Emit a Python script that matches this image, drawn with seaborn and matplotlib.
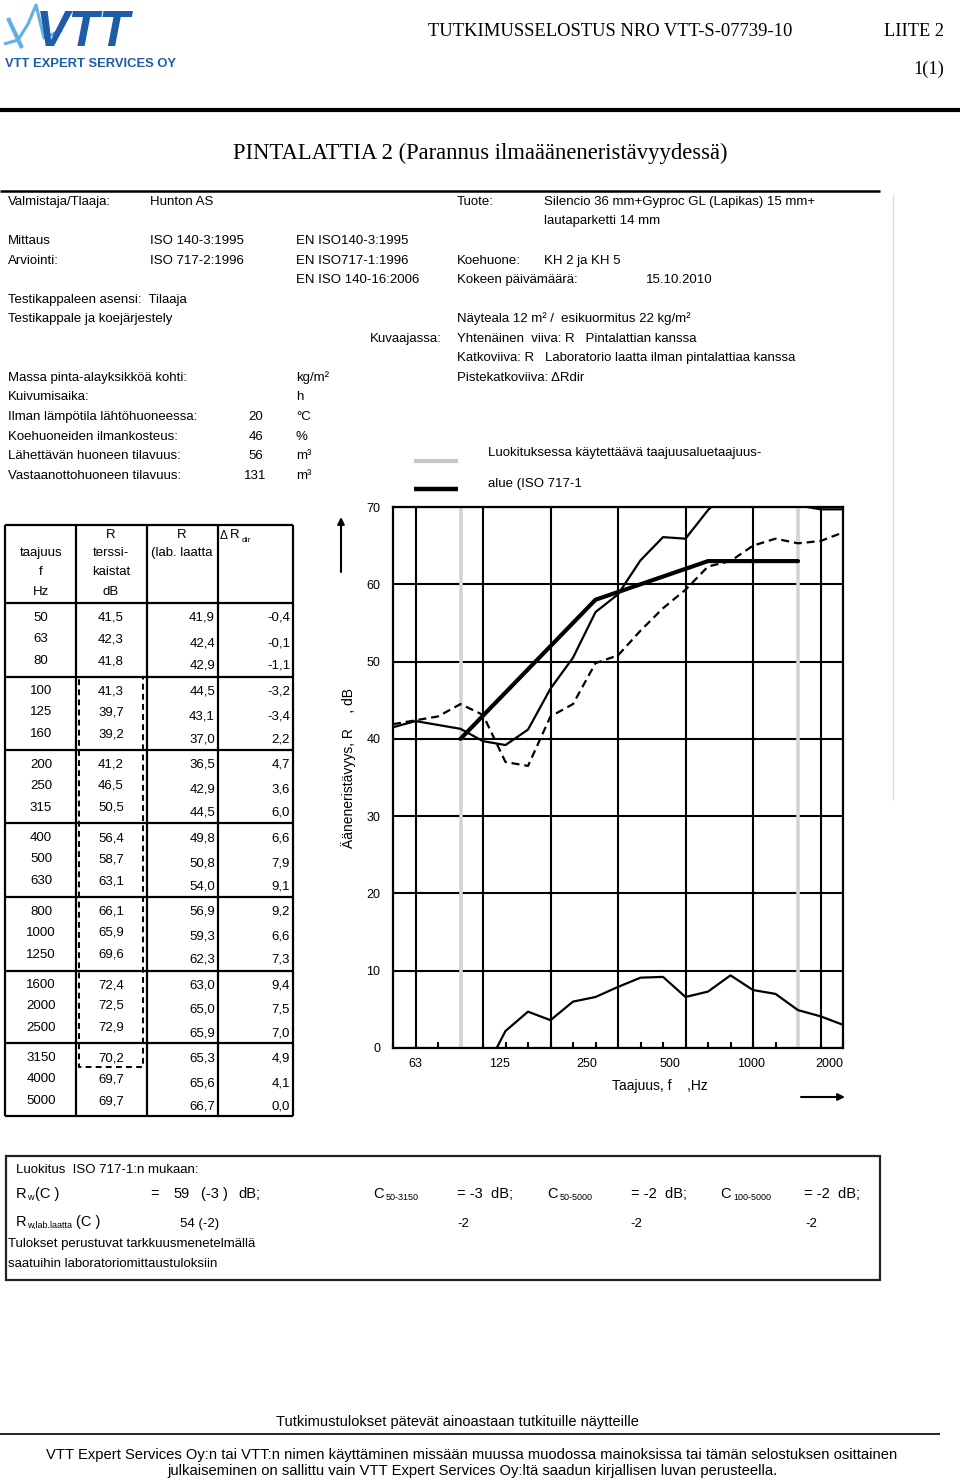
import numpy as np
import pandas as pd
import matplotlib
matplotlib.use("Agg")
import matplotlib.pyplot as plt
import seaborn as sns

# ---------------- data ----------------
freqs = [50, 63, 80, 100, 125, 160, 200, 250, 315, 400, 500, 630,
         800, 1000, 1250, 1600, 2000, 2500, 3150, 4000, 5000]
r_field = [41.5, 42.3, 41.8, 41.3, 39.7, 39.2, 41.2, 46.5, 50.5, 56.4, 58.7,
           63.1, 66.1, 65.9, 69.6, 72.4, 72.5, 72.9, 70.2, 69.7, 69.7]
r_lab = [41.9, 42.4, 42.9, 44.5, 43.1, 37.0, 36.5, 42.9, 44.5, 49.8, 50.8,
         54.0, 56.9, 59.3, 62.3, 63.0, 65.0, 65.9, 65.3, 65.6, 66.7]
# values printed in the table
delta_r = [-0.4, -0.1, -1.1, -3.2, -3.4, 2.2, 4.7, 3.6, 6.0, 6.6, 7.9,
           9.1, 9.2, 6.6, 7.3, 9.4, 7.5, 7.0, 4.9, 4.1, 0.0]
# values drawn in the chart (last point differs from the table)
delta_r_curve = [-0.4, -0.1, -1.1, -3.2, -3.4, 2.2, 4.7, 3.6, 6.0, 6.6, 7.9,
                 9.1, 9.2, 6.6, 7.3, 9.4, 7.5, 7.0, 4.9, 4.1, 3.0]
ref_freqs = [100, 125, 160, 200, 250, 315, 400, 500, 630, 800, 1000,
             1250, 1600, 2000, 2500, 3150]
ref_curve = [40, 43, 46, 49, 52, 55, 58, 59, 60, 61, 62, 63, 63, 63, 63, 63]
x_tick_labels = ["63", "125", "250", "500", "1000", "2000"]
y_ticks = [0, 10, 20, 30, 40, 50, 60, 70]

# ---------------- setup ----------------
sns.set_theme(style="white")
SANS = ["Liberation Sans", "DejaVu Sans"]
SERIF = ["Liberation Serif", "DejaVu Serif"]
plt.rcParams["font.family"] = SANS

W, H = 960, 1480
fig = plt.figure(figsize=(W / 100, H / 100), dpi=100)
fig.patch.set_facecolor("white")
tx = fig.add_axes([0, 0, 1, 1])
tx.set_xlim(0, W)
tx.set_ylim(H, 0)
tx.axis("off")


def T(x, y, s, size=9.5, ha="left", va="center", family=None, **kw):
    tx.text(x, y, s, fontsize=size, ha=ha, va=va,
            family=family if family else SANS, color="black", **kw)


def L(xs, ys, lw=1.0, color="black", **kw):
    tx.plot(xs, ys, lw=lw, color=color, solid_capstyle="butt", **kw)


# ---------------- header ----------------
blue = "#1f5ca8"
light_blue = "#5fb0e8"
L([4, 18, 28, 36, 44, 62], [44, 40, 24, 5, 38, 30], lw=2.2, color=light_blue)
L([8, 22], [18, 48], lw=3.0, color=light_blue)
tx.text(36, 33, "VTT", fontsize=36, fontweight="bold", fontstyle="italic",
        color=blue, ha="left", va="center", family=SANS)
tx.text(5, 64, "VTT EXPERT SERVICES OY", fontsize=9.4, fontweight="bold",
        color=blue, ha="left", va="center", family=SANS)

T(428, 32, "TUTKIMUSSELOSTUS NRO VTT-S-07739-10", size=13.4, family=SERIF)
T(944, 32, "LIITE 2", size=13.2, ha="right", family=SERIF)
T(944, 69, "1(1)", size=13.2, ha="right", family=SERIF)
L([0, 960], [110, 110], lw=3.0)
T(480, 153, "PINTALATTIA 2 (Parannus ilmaääneneristävyydessä)", size=16.3,
  ha="center", family=SERIF)
L([0, 880], [191, 191], lw=1.8)
L([893, 893], [195, 800], lw=1.0, color="#dcdcdc")

# ---------------- info block ----------------
T(8, 202, "Valmistaja/Tlaaja:")
T(150, 202, "Hunton AS")
T(457, 202, "Tuote:")
T(544, 202, "Silencio 36 mm+Gyproc GL (Lapikas) 15 mm+")
T(544, 221, "lautaparketti 14 mm")
T(8, 241, "Mittaus")
T(150, 241, "ISO 140-3:1995")
T(296, 241, "EN ISO140-3:1995")
T(8, 261, "Arviointi:")
T(150, 261, "ISO 717-2:1996")
T(296, 261, "EN ISO717-1:1996")
T(457, 261, "Koehuone:")
T(544, 261, "KH 2 ja KH 5")
T(296, 280, "EN ISO 140-16:2006")
T(457, 280, "Kokeen päivämäärä:")
T(646, 280, "15.10.2010")
T(8, 300, "Testikappaleen asensi:  Tilaaja")
T(8, 319, "Testikappale ja koejärjestely")
T(457, 319, "Näyteala 12 m² /  esikuormitus 22 kg/m²")
T(370, 339, "Kuvaajassa:")
T(457, 339, "Yhtenäinen  viiva: R   Pintalattian kanssa")
T(457, 358, "Katkoviiva: R   Laboratorio laatta ilman pintalattiaa kanssa")
T(8, 378, "Massa pinta-alayksikköä kohti:")
T(296, 378, "kg/m²")
T(457, 378, "Pistekatkoviiva: ΔRdir")
T(8, 397, "Kuivumisaika:")
T(296, 397, "h")
T(8, 417, "Ilman lämpötila lähtöhuoneessa:")
T(263, 417, "20", ha="right")
T(296, 417, "°C")
T(8, 437, "Koehuoneiden ilmankosteus:")
T(263, 437, "46", ha="right")
T(296, 437, "%")
T(8, 456, "Lähettävän huoneen tilavuus:")
T(263, 456, "56", ha="right")
T(296, 456, "m³")
T(8, 476, "Vastaanottohuoneen tilavuus:")
T(266, 476, "131", ha="right")
T(296, 476, "m³")

# legend of chart
L([414, 458], [461, 461], lw=3.0, color="#c8c8c8")
L([414, 458], [489, 489], lw=3.2, color="black")
T(488, 453, "Luokituksessa käytettäävä taajuusaluetaajuus-")
T(488, 484, "alue (ISO 717-1")

# ---------------- table ----------------
tl, tr, ttop, tbot = 5, 293, 525, 1116
cols = [5, 76, 147, 218, 293]
group_lines = [603, 677, 750, 823, 897, 971, 1043]
for xc in cols:
    L([xc, xc], [ttop, tbot], lw=1.6)
for yc in [ttop] + group_lines + [tbot]:
    L([tl, tr], [yc, yc], lw=1.6)
# dashed box around ISO range
tx.plot([79, 143, 143, 79, 79], [677, 677, 1067, 1067, 677], lw=1.4,
        color="black", ls=(0, (3, 2.2)))

T(41, 553, "taajuus", ha="center")
T(41, 572, "f", ha="center")
T(41, 592, "Hz", ha="center")
T(111, 535, "R", ha="center")
T(111, 553, "terssi-", ha="center")
T(111, 572, "kaistat", ha="center")
T(111, 592, "dB", ha="center")
T(182, 535, "R", ha="center")
T(182, 553, "(lab. laatta", ha="center")
T(220, 536, "Δ", size=8.5)
T(230, 535, "R")
T(242, 540, "dir", size=6)


def fmt(v):
    return f"{v:.1f}".replace(".", ",")


for i, f in enumerate(freqs):
    g, r = divmod(i, 3)
    top = 603 + 73.4 * g
    y12 = top + [15, 36, 58][r]
    y34 = top + [15, 40, 63][r]
    T(41, y12, str(f), ha="center")
    T(111, y12, fmt(r_field[i]), ha="center")
    T(215, y34, fmt(r_lab[i]), ha="right")
    T(290, y34, fmt(delta_r[i]), ha="right")

# ---------------- chart ----------------
x0, x1, y0, y1 = 393, 843, 507, 1048
ax = fig.add_axes([x0 / W, 1 - y1 / H, (x1 - x0) / W, (y1 - y0) / H])
ax.set_facecolor("white")
band = np.arange(len(freqs))
df = pd.DataFrame({"band": band, "r_field": r_field, "r_lab": r_lab,
                   "delta_r": delta_r_curve})
ref_band = [freqs.index(f) for f in ref_freqs]
df_ref = pd.DataFrame({"band": ref_band, "ref": ref_curve})

ax.set_xlim(0, len(freqs) - 1)
ax.set_ylim(0, 70)

# grid
for yv in y_ticks:
    ax.axhline(yv, color="black", lw=1.5, zorder=1)
for f in [63, 125, 250, 500, 1000, 2000, 4000]:
    ax.axvline(freqs.index(f), color="black", lw=1.5, zorder=1)
for f in [100, 3150]:
    ax.axvline(freqs.index(f), color="#d4d4d4", lw=2.6, zorder=1.5)

sns.lineplot(data=df_ref, x="band", y="ref", ax=ax, color="black", lw=3.0,
             zorder=5)
sns.lineplot(data=df, x="band", y="r_field", ax=ax, color="black", lw=1.6,
             zorder=4)
sns.lineplot(data=df, x="band", y="r_lab", ax=ax, color="black", lw=1.6,
             linestyle="--", zorder=4)
ax.lines[-1].set_dashes((3.6, 2.2))
sns.lineplot(data=df, x="band", y="delta_r", ax=ax, color="black", lw=1.6,
             zorder=4)

for s in ax.spines.values():
    s.set_color("black")
    s.set_linewidth(1.6)
    s.set_visible(True)

ax.set_yticks(y_ticks)
ax.set_yticklabels([str(v) for v in y_ticks])
ax.set_xticks([1, 4.75, 8.6, 12.3, 15.9, 19.4])
ax.set_xticklabels(x_tick_labels)
ax.set_xticks(band, minor=True)
ax.tick_params(axis="y", which="both", length=0, pad=9, labelsize=9,
               labelcolor="black")
ax.tick_params(axis="x", which="major", length=0, pad=7, labelsize=9,
               labelcolor="black")
ax.tick_params(axis="x", which="minor", length=4, width=1.5, direction="in",
               color="black", bottom=True)
ax.set_xlabel("Taajuus, f    ,Hz", fontsize=10, ha="center", va="center",
              color="black")
ax.xaxis.set_label_coords((660 - x0) / (x1 - x0), -(1086 - y1) / (y1 - y0))
ax.set_ylabel("Ääneneristävyys, R    , dB", fontsize=10, ha="center",
              va="center", color="black")
ax.yaxis.set_label_coords((349 - x0) / (x1 - x0), (y1 - 768) / (y1 - y0))

# arrows
tx.annotate("", xy=(341, 517), xytext=(341, 572),
            arrowprops=dict(arrowstyle="-|>", lw=1.5, color="black",
                            mutation_scale=10, shrinkA=0, shrinkB=0))
tx.annotate("", xy=(845, 1097), xytext=(801, 1097),
            arrowprops=dict(arrowstyle="-|>", lw=1.5, color="black",
                            mutation_scale=10, shrinkA=0, shrinkB=0))

# ---------------- classification box ----------------
tx.add_patch(plt.Rectangle((6, 1156), 874, 124, fill=False, lw=1.6,
                           edgecolor="#222222"))
T(16, 1170, "Luokitus  ISO 717-1:n mukaan:")
T(16, 1194, "R", size=10.5)
T(27, 1197, "w", size=6.5)
T(35, 1194, "(C )", size=10.5)
T(150, 1194, "=", size=10.5)
T(173, 1194, "59", size=10.5)
T(201, 1194, "(-3 )", size=10.5)
T(238, 1194, "dB;", size=10.5)
for xc, sub, val in [(373, "50-3150", "= -3  dB;"),
                     (547, "50-5000", "= -2  dB;"),
                     (720, "100-5000", "= -2  dB;")]:
    T(xc, 1194, "C", size=10.5)
    T(xc + 13, 1197, sub, size=6.5)
    T(xc + 84, 1194, val, size=10.5)
T(16, 1222, "R", size=10.5)
T(27, 1225, "w,lab.laatta", size=6.5)
T(76, 1222, "(C )", size=10.5)
T(180, 1224, "54 (-2)")
T(457, 1224, "-2")
T(630, 1224, "-2")
T(805, 1224, "-2")
T(8, 1244, "Tulokset perustuvat tarkkuusmenetelmällä")
T(8, 1264, "saatuihin laboratoriomittaustuloksiin")

# ---------------- footer ----------------
T(457, 1422, "Tutkimustulokset pätevät ainoastaan tutkituille näytteille",
  size=10.5, ha="center")
L([0, 940], [1434, 1434], lw=1.2)
T(472, 1455, "VTT Expert Services Oy:n tai VTT:n nimen käyttäminen missään "
  "muussa muodossa mainoksissa tai tämän selostuksen osittainen",
  size=10.6, ha="center")
T(472, 1471, "julkaiseminen on sallittu vain VTT Expert Services Oy:ltä "
  "saadun kirjallisen luvan perusteella.", size=10.6, ha="center")

fig.savefig("out.png", dpi=100, facecolor="white")
